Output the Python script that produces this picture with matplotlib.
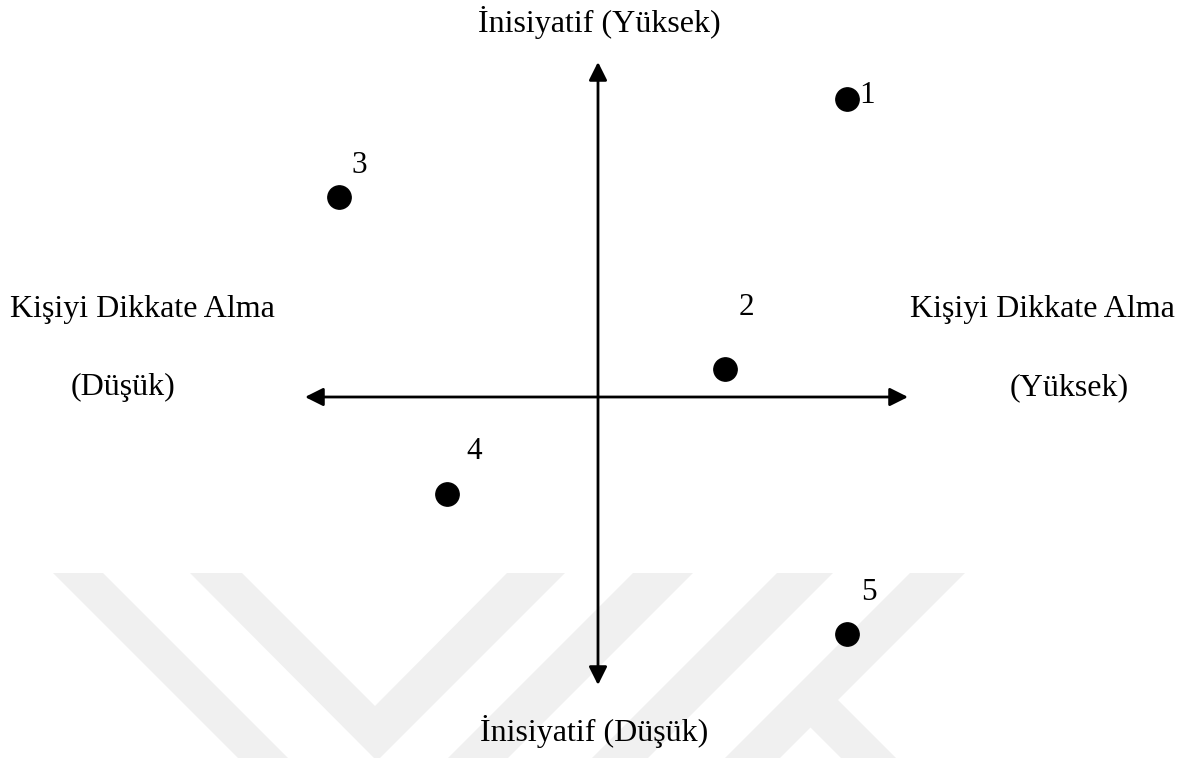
import matplotlib
matplotlib.use("Agg")
import matplotlib.pyplot as plt
from matplotlib.patches import Polygon

# ---- data ----
point_labels = ["1", "2", "3", "4", "5"]
dikkate = [249, 127, -259, -151, 249]        # Kişiyi Dikkate Alma (x)
inisiyatif = [298, 28, 200, -97, -237]       # İnisiyatif (y)

top_label = "İnisiyatif (Yüksek)"
bottom_label = "İnisiyatif (Düşük)"
left_label = ["Kişiyi Dikkate Alma", "(Düşük)"]
right_label = ["Kişiyi Dikkate Alma", "(Yüksek)"]

# ---- layout ----
W, H = 1190, 758
CX, CY = 598, 397
x_axis = (-293, 310)
y_axis = (-288, 335)
label_offsets = [(20, -4), (21, 54), (20, 24), (27, 35), (22, 34)]

FONT = "Liberation Serif"
FS = 23

fig = plt.figure(figsize=(W / 100, H / 100), dpi=100)
ax = fig.add_axes([0, 0, 1, 1])
ax.set_xlim(-CX, W - CX)
ax.set_ylim(CY - H, CY)
ax.axis("off")


def px(x, y):
    return (x - CX, CY - y)


# watermark
wm_color = "#f0f0f0"
shapes = [
    [(53, 573), (103, 573), (303, 773), (253, 773)],
    [(190, 573), (242, 573), (375, 706), (507, 573), (565, 573), (377, 761)],
    [(633, 573), (693, 573), (493, 773), (433, 773)],
    [(777, 573), (833, 573), (633, 773), (577, 773)],
    [(910, 573), (965, 573), (765, 773), (710, 773)],
    [(783, 700), (838, 700), (911, 773), (856, 773)],
]
for s in shapes:
    ax.add_patch(Polygon([px(*p) for p in s], closed=True, facecolor=wm_color,
                         edgecolor="none", zorder=0))

arrow_style = dict(arrowstyle="<|-|>,head_length=1.1,head_width=0.55",
                   mutation_scale=10, lw=2, color="black", shrinkA=0, shrinkB=0)
ax.annotate("", xy=(x_axis[1], 0), xytext=(x_axis[0], 0), arrowprops=arrow_style, zorder=2)
ax.annotate("", xy=(0, y_axis[1]), xytext=(0, y_axis[0]), arrowprops=arrow_style, zorder=2)

ax.plot(dikkate, inisiyatif, "o", color="black", markersize=16.8, zorder=3)
for lab, x, y, off in zip(point_labels, dikkate, inisiyatif, label_offsets):
    ax.annotate(lab, xy=(x, y), xytext=off, textcoords="offset pixels",
                ha="center", va="baseline", fontsize=22.5, family=FONT)

ax.text(1, 365, top_label, ha="center", va="baseline", fontsize=FS, family=FONT)
ax.text(-4, -344, bottom_label, ha="center", va="baseline", fontsize=FS, family=FONT)
ax.text(-456, 80, left_label[0], ha="center", va="baseline", fontsize=FS, family=FONT)
ax.text(-475, 2, left_label[1], ha="center", va="baseline", fontsize=FS, family=FONT)
ax.text(444, 80, right_label[0], ha="center", va="baseline", fontsize=FS, family=FONT)
ax.text(471, 2, right_label[1], ha="center", va="baseline", fontsize=FS, family=FONT)

fig.savefig("out.png", dpi=100)
